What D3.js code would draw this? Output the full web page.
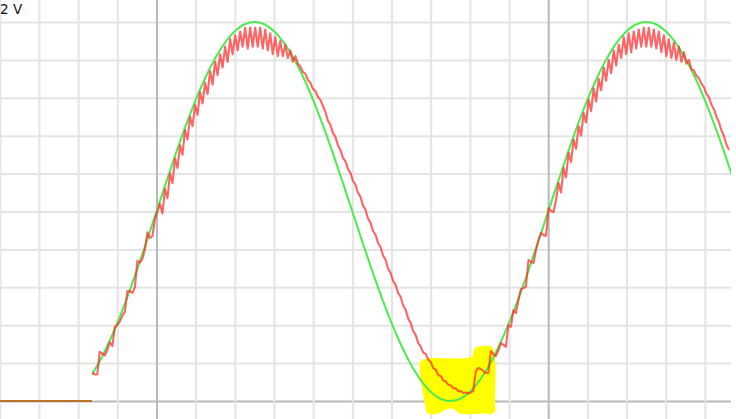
<!DOCTYPE html>
<html><head><meta charset="utf-8">
<script src="https://cdn.jsdelivr.net/npm/d3@7"></script>
<style>html,body{margin:0;padding:0;background:#fff;overflow:hidden}</style>
</head><body><svg id="c" width="736" height="419"></svg>
<script>
// ---- data (time in divisions, voltage in volts) ----
const gridT = [-4,-3,-2,-1,0,1,2,3,4,5,6,7,8,9,10,11,12,13,14];
const majorT = [0,10];
const gridV = [0,0.2,0.4,0.6,0.8,1.0,1.2,1.4,1.6,1.8,2.0];
const majorV = [0];
const scaleLabel = "2 V";

// reference (green) trace, sampled every 0.25 div from t = -1.75
const greenStart = -1.75, greenStep = 0.25;
const greenV = [0.109,0.191,0.293,0.412,0.546,0.691,0.844,1.0,1.156,1.309,1.454,1.588,1.707,1.809,1.891,1.951,1.988,2.0,
 1.988,1.951,1.891,1.809,1.707,1.588,1.454,1.309,1.156,1.0,0.844,0.691,0.546,0.412,0.293,0.191,0.109,0.049,0.012,0.0,
 0.012,0.049,0.109,0.191,0.293,0.412,0.546,0.691,0.844,1.0,1.156,1.309,1.454,1.588,1.707,1.809,1.891,1.951,1.988,2.0,
 1.988,1.951,1.891,1.809,1.707,1.588,1.454,1.309,1.156];
const traceStartT = -1.647, traceEndT = 14.667;

// output (red) trace, sampled every 0.064 div from t = -1.64
const redStart = -1.64, redStep = 0.064;
const redV = [0.15,0.14,0.14,0.26,0.25,0.24,0.27,0.31,0.29,0.39,0.40,0.42,0.45,0.47,0.58,0.58,0.57,0.60,0.74,0.73,
 0.75,0.80,0.89,0.86,0.87,0.96,1.00,1.04,0.99,1.12,1.07,1.20,1.15,1.28,1.23,1.35,1.30,1.43,1.38,1.50,
 1.45,1.56,1.51,1.63,1.57,1.68,1.62,1.74,1.67,1.79,1.72,1.83,1.76,1.87,1.79,1.91,1.83,1.93,1.85,1.95,
 1.87,1.97,1.86,1.97,1.87,1.97,1.87,1.97,1.86,1.96,1.85,1.94,1.83,1.92,1.82,1.90,1.82,1.88,1.81,1.85,
 1.79,1.82,1.78,1.765,1.736,1.726,1.694,1.679,1.647,1.637,1.604,1.589,1.557,1.526,1.480,1.457,1.415,1.394,1.349,1.325,
 1.283,1.265,1.225,1.204,1.161,1.141,1.098,1.077,1.032,1.009,0.963,0.940,0.897,0.877,0.834,0.813,0.768,0.745,0.699,0.676,
 0.634,0.613,0.570,0.550,0.504,0.481,0.436,0.412,0.370,0.349,0.306,0.288,0.256,0.249,0.219,0.206,0.174,0.166,0.137,0.132,
 0.108,0.104,0.086,0.083,0.067,0.067,0.052,0.053,0.042,0.045,0.040,0.045,0.053,0.158,0.174,0.169,0.158,0.148,0.148,0.264,
 0.248,0.237,0.269,0.306,0.296,0.285,0.401,0.391,0.480,0.464,0.533,0.591,0.596,0.602,0.744,0.734,0.728,0.797,0.850,0.887,
 0.876,0.871,1.018,1.003,0.997,1.061,1.15,1.10,1.23,1.18,1.31,1.26,1.38,1.33,1.45,1.40,1.52,1.47,1.59,1.53,
 1.65,1.58,1.70,1.64,1.76,1.69,1.80,1.73,1.85,1.77,1.88,1.81,1.92,1.83,1.94,1.84,1.95,1.86,1.96,1.87,
 1.97,1.87,1.97,1.87,1.96,1.86,1.95,1.84,1.93,1.82,1.91,1.81,1.89,1.80,1.87,1.79,1.84,1.78,1.80,1.75,
 1.745,1.716,1.703,1.674,1.656,1.621,1.603,1.563,1.540,1.500,1.471,1.426,1.397,1.352,1.325];

// idle (brown) trace before start
const idleT = [-4, -1.647];
const idleV = [0, 0];

// yellow highlight annotation outline (t, V)
const hlT = [6.73,6.85,7.3,7.85,8.05,8.13,8.35,8.55,8.63,8.64,8.62,8.3,7.75,7.55,7.4,7.2,6.92,6.86,6.76];
const hlV = [0.205,0.222,0.226,0.226,0.235,0.28,0.29,0.288,0.25,0.0,-0.062,-0.066,-0.066,-0.04,-0.045,-0.066,-0.066,-0.02,0.10];

// ---- drawing ----
const W = 736, H = 419, plotRight = 731;
const svg = d3.select("#c");
const x = d3.scaleLinear().domain([0,10]).range([156.5, 548.2]);
const y = d3.scaleLinear().domain([0,2]).range([401, 22]);

// grid via axes
const gx = svg.append("g").attr("transform", `translate(0,${H})`)
  .call(d3.axisBottom(x).tickValues(gridT).tickSize(-H).tickFormat(""));
gx.select(".domain").remove();
gx.selectAll(".tick line").attr("stroke", d => majorT.includes(d) ? "#b9b9b9" : "#e4e4e4").attr("stroke-width", 2);

const gy = svg.append("g")
  .call(d3.axisRight(y).tickValues(gridV).tickSize(plotRight).tickFormat(""));
gy.select(".domain").remove();
gy.selectAll(".tick line").attr("stroke", d => majorV.includes(d) ? "#b9b9b9" : "#e4e4e4").attr("stroke-width", 2);
gx.raise();
gx.selectAll(".tick").filter(d => !majorT.includes(d)).lower();

// highlight
const hlPts = hlT.map((t,i)=>[t,hlV[i]]);
svg.append("path")
  .attr("d", d3.line().x(d=>x(d[0])).y(d=>y(d[1])).curve(d3.curveCatmullRomClosed)(hlPts))
  .attr("fill", "#ffff00").attr("stroke", "none");

// clip for traces
svg.append("clipPath").attr("id","clipTrace").append("rect")
  .attr("x", x(traceStartT)).attr("y", 0).attr("width", x(traceEndT)-x(traceStartT)).attr("height", H);

// idle line
svg.append("path")
  .attr("d", d3.line().x((d,i)=>x(idleT[i])).y((d,i)=>y(idleV[i]))(idleT))
  .attr("fill","none").attr("stroke","#b8732f").attr("stroke-width",2);

// green
const gPts = greenV.map((v,i)=>[greenStart + i*greenStep, v]);
svg.append("path")
  .attr("clip-path","url(#clipTrace)")
  .attr("d", d3.line().x(d=>x(d[0])).y(d=>y(d[1])).curve(d3.curveCatmullRom)(gPts))
  .attr("fill","none").attr("stroke","#4deb4d").attr("stroke-width",2);

// red
const rPts = redV.map((v,i)=>[redStart + i*redStep, v]);
svg.append("path")
  .attr("d", d3.line().x(d=>x(d[0])).y(d=>y(d[1]))(rPts))
  .attr("fill","none").attr("stroke","#ff2a2a").attr("stroke-opacity",0.72)
  .attr("stroke-width",2.1).attr("stroke-linejoin","round");

// scale label
svg.append("text").attr("x", 0).attr("y", 13.5)
  .attr("font-family","DejaVu Sans, sans-serif").attr("font-size", 13.5).attr("fill","#111")
  .text(scaleLabel);
</script>
</body></html>
